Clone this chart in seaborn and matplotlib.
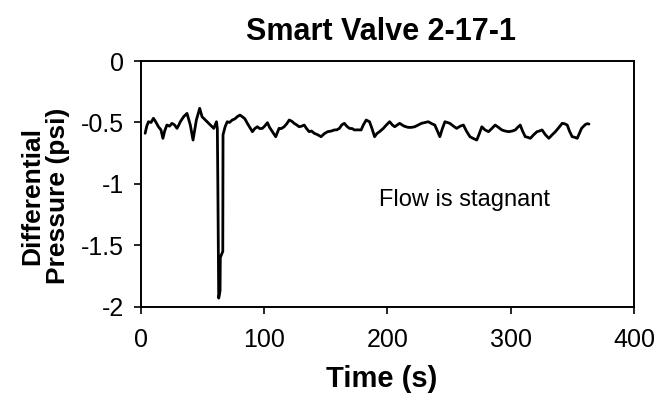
import matplotlib
matplotlib.use("Agg")
import matplotlib.pyplot as plt
import seaborn as sns
import pandas as pd

time_s = [3.7, 5.0, 6.4, 8.5, 10.4, 12.0, 14.5, 16.5, 18.1, 19.5, 21.3, 23.5, 25.4, 27.5,
          29.5, 31.0, 32.2, 34.9, 37.6, 40.3, 42.5, 45.2, 47.9, 49.8, 52.5, 54.5, 56.6,
          59.3, 61.5, 62.2, 62.6, 63.3, 64.4, 64.6, 66.6, 66.8, 68.5,
          70.2, 72.0, 74.3, 76.5, 78.3, 80.5, 82.4, 84.5, 86.5, 88.5, 90.6, 92.5, 94.6,
          96.5, 98.7, 100.5, 102.8, 104.5, 106.8, 109.5, 112.2, 114.0,
          116.3, 118.5, 120.4, 122.5, 124.4, 126.5, 128.5, 130.5, 132.6, 134.5, 136.6,
          138.5, 140.7, 143.5, 146.2, 149.0, 151.6, 154.5, 157.0, 159.0, 161.1, 163.0,
          165.1, 167.0, 169.2, 171.5, 173.3, 176.0, 178.7, 180.5, 182.8, 185.5, 187.5,
          189.6, 191.5, 193.6, 196.5, 199.1, 201.8, 204.0, 205.9, 208.0, 209.9, 213.5,
          216.8, 219.5, 222.1, 225.0, 227.6, 230.5, 233.1, 236.0, 238.4, 240.5, 242.5,
          244.5, 246.6, 248.5, 250.6, 253.5, 256.1, 259.0, 261.6, 264.0, 266.9, 269.5,
          272.4, 274.5, 276.5, 279.0, 281.9, 284.5, 287.3, 290.0, 292.7, 295.5, 298.2,
          301.0, 303.6, 305.5, 307.6, 309.5, 311.7, 313.5, 315.8, 318.5, 321.2, 323.0,
          325.3, 328.0, 330.8, 333.5, 336.1, 339.0, 341.6, 343.5, 345.7, 347.5, 349.7,
          351.5, 353.8, 355.5, 357.3, 359.0, 360.6, 362.0, 363.3]
pressure_psi = [-0.588, -0.53, -0.494, -0.50, -0.466, -0.49, -0.535, -0.56, -0.629, -0.57,
                -0.521, -0.53, -0.507, -0.52, -0.548, -0.52, -0.494, -0.453, -0.426,
                -0.521, -0.643, -0.480, -0.385, -0.453, -0.480, -0.50, -0.521, -0.548,
                -0.494, -0.55, -1.00, -1.93, -1.87, -1.60, -1.55, -0.60, -0.535,
                -0.494, -0.50, -0.480, -0.47, -0.453, -0.44, -0.453, -0.47, -0.507, -0.54,
                -0.575, -0.55, -0.535, -0.55, -0.548, -0.53, -0.502, -0.54, -0.575,
                -0.616, -0.548, -0.55, -0.535, -0.51, -0.480, -0.49, -0.507, -0.52,
                -0.535, -0.53, -0.521, -0.55, -0.575, -0.57, -0.588, -0.60, -0.616, -0.59,
                -0.575, -0.57, -0.561, -0.56, -0.548, -0.52, -0.507, -0.53, -0.548, -0.55,
                -0.561, -0.56, -0.561, -0.52, -0.480, -0.494, -0.55, -0.616, -0.59,
                -0.575, -0.55, -0.521, -0.494, -0.52, -0.535, -0.52, -0.507, -0.53, -0.540,
                -0.54, -0.535, -0.52, -0.507, -0.50, -0.494, -0.51, -0.521, -0.57, -0.616,
                -0.55, -0.494, -0.50, -0.507, -0.53, -0.548, -0.53, -0.521, -0.57, -0.616,
                -0.63, -0.643, -0.59, -0.535, -0.56, -0.575, -0.55, -0.521, -0.54, -0.561,
                -0.57, -0.575, -0.57, -0.561, -0.54, -0.521, -0.57, -0.616, -0.62, -0.629,
                -0.60, -0.575, -0.57, -0.561, -0.60, -0.629, -0.60, -0.575, -0.54, -0.507,
                -0.51, -0.521, -0.57, -0.616, -0.62, -0.629, -0.59, -0.548, -0.53, -0.515,
                -0.51, -0.513]

x_ticks = [0, 100, 200, 300, 400]
y_ticks = [0, -0.5, -1, -1.5, -2]
y_tick_labels = ["0", "-0.5", "-1", "-1.5", "-2"]

title = "Smart Valve 2-17-1"
x_label = "Time (s)"
y_label = "Differential\nPressure (psi)"
note = "Flow is stagnant"

sns.set_style("white")
plt.rcParams["font.family"] = ["Liberation Sans", "DejaVu Sans"]
plt.rcParams["text.color"] = "black"
plt.rcParams["axes.labelcolor"] = "black"
plt.rcParams["axes.titlecolor"] = "black"

df = pd.DataFrame({"t": time_s, "p": pressure_psi})

fig = plt.figure(figsize=(6.6, 4.07), dpi=100)
ax = fig.add_axes([0.213, 0.2464, 0.748, 0.6036])
sns.lineplot(data=df, x="t", y="p", ax=ax, color="black", linewidth=2.0, sort=False)

ax.set_xlim(0, 400)
ax.set_ylim(-2, 0)
ax.set_xticks(x_ticks)
ax.set_xticklabels([str(v) for v in x_ticks])
ax.set_yticks(y_ticks)
ax.set_yticklabels(y_tick_labels)
ax.tick_params(axis="both", direction="out", length=5, width=1.2, labelsize=18,
               colors="black", bottom=True, left=True)
ax.tick_params(axis="x", pad=10)
ax.tick_params(axis="y", pad=7)
for s in ax.spines.values():
    s.set_color("black")
    s.set_linewidth(1.4)

ax.set_title(title, fontsize=22, fontweight="bold", pad=15, x=0.487)
ax.set_xlabel(x_label, fontsize=21, fontweight="bold")
ax.xaxis.set_label_coords(0.489, -0.236)
ax.set_ylabel(y_label, fontsize=19, fontweight="bold", linespacing=1.1)
ax.yaxis.set_label_coords(-0.143, 0.45)
ax.text(193.4, -1.13, note, fontsize=17, ha="left", va="center")

fig.savefig("out.png", dpi=100)
